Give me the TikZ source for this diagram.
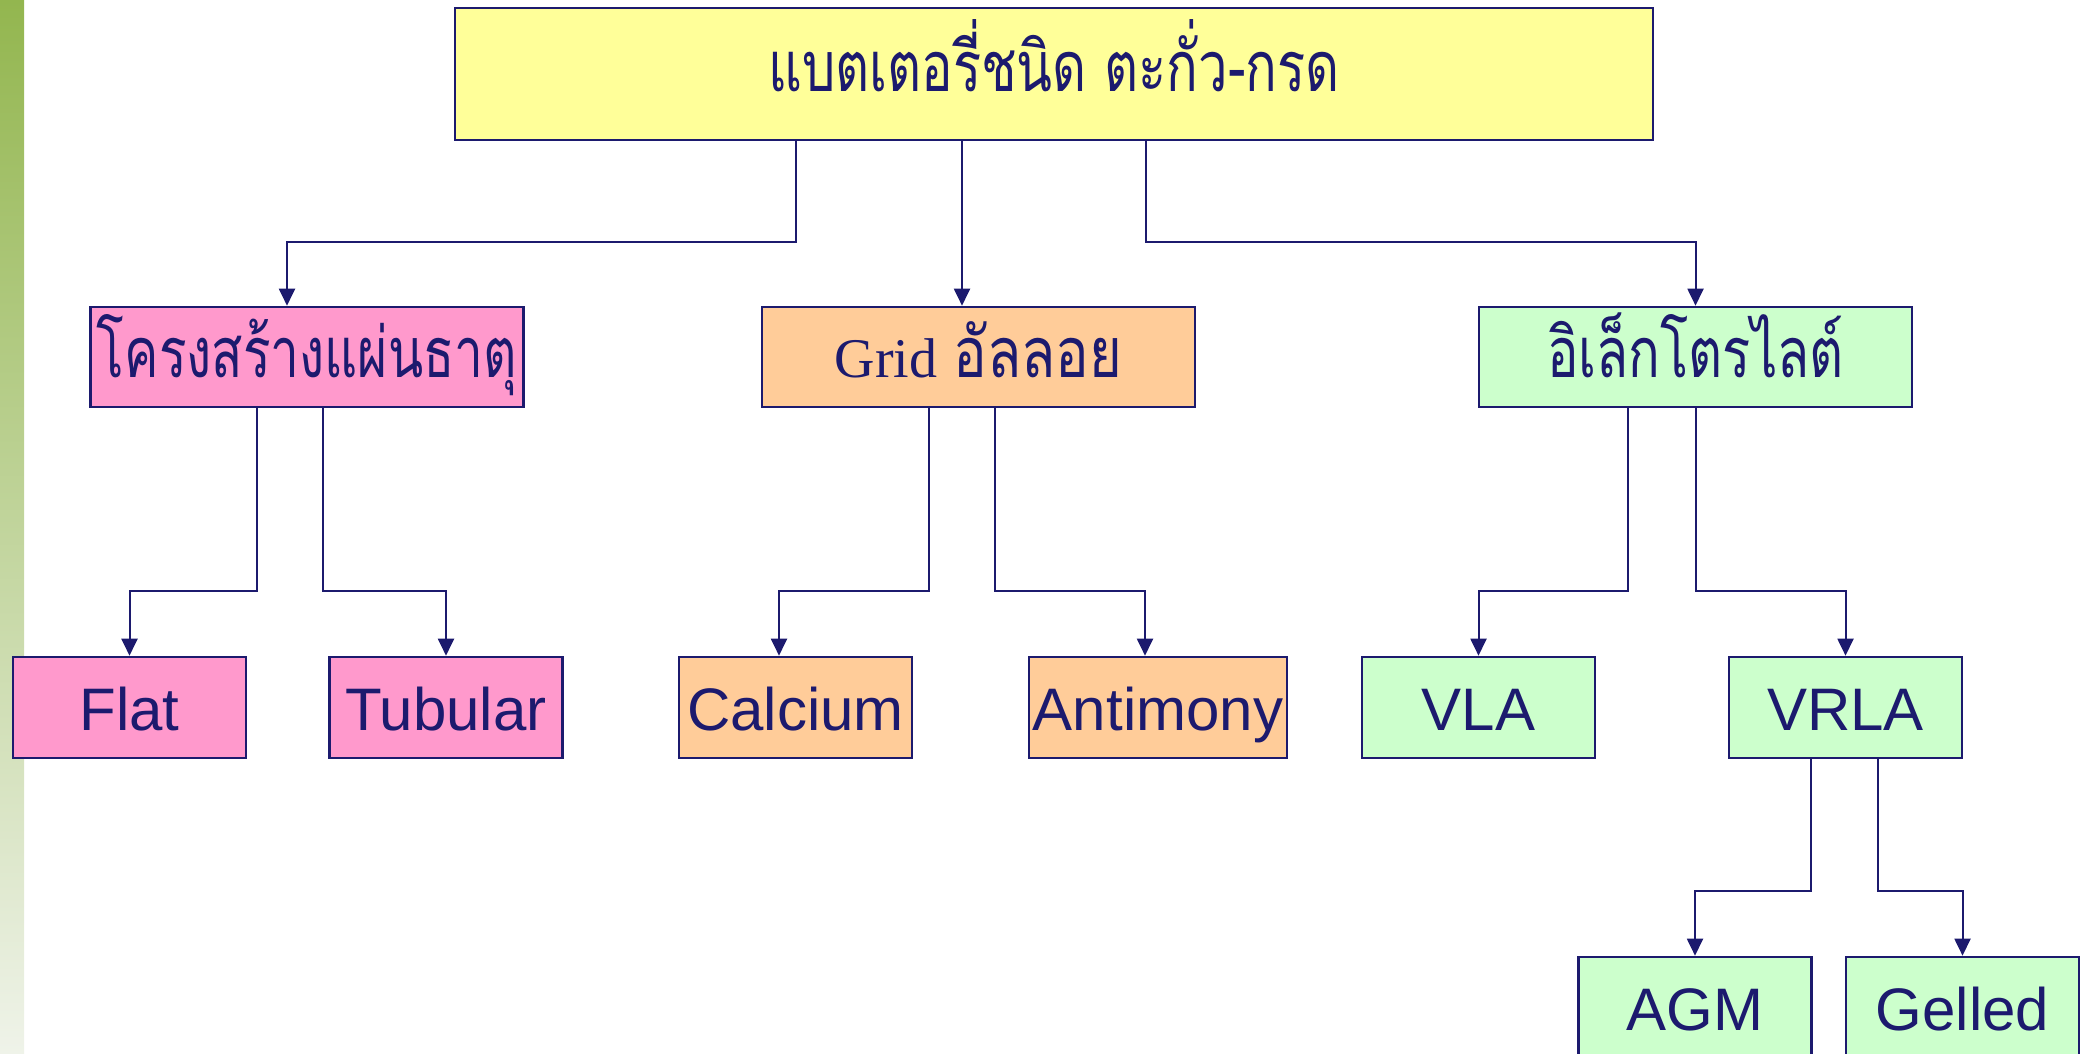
\documentclass[tikz,border=0pt]{standalone}
\usepackage{fontspec}
\setmainfont{Liberation Sans}
\newfontfamily\thai[Script=Thai]{Loma}
\newfontfamily\lserif{Liberation Serif}
\usetikzlibrary{arrows.meta}
\definecolor{navy}{HTML}{1C1A6E}
\definecolor{fyel}{HTML}{FFFF99}
\definecolor{fpink}{HTML}{FF99CC}
\definecolor{forange}{HTML}{FFCC99}
\definecolor{fgreen}{HTML}{CCFFCC}
\definecolor{bartop}{HTML}{93B64F}
\definecolor{barbot}{HTML}{EFF3E9}
\newcommand{\thn}[2]{\scalebox{#1}[1]{#2}}
\tikzset{
  box/.style={draw=navy, line width=2.6pt, inner sep=0pt, text=navy, text depth=0pt},
  thbox/.style={box, minimum width=433pt, minimum height=100pt, text height=40pt, font=\thai\fontsize{70}{80}\selectfont},
  enbox/.style={box, minimum width=233pt, minimum height=101pt, text height=46pt, font=\fontsize{60}{70}\selectfont},
  conn/.style={draw=navy, line width=2pt, -{Triangle[length=17pt,width=16pt]}},
}
\begin{document}
\begin{tikzpicture}[x=1pt,y=-1pt]
\useasboundingbox (0,0) rectangle (2084,1054);
\shade[top color=bartop, bottom color=barbot] (0,0) rectangle (24,1054);
% top
\node[box, fill=fyel, minimum width=1198pt, minimum height=132pt, text height=36pt, font=\thai\fontsize{70}{80}\selectfont] (top) at (1054,74) {\thn{0.75}{แบตเตอรี่ชนิด ตะกั่ว-กรด}};
% level 2
\node[thbox, fill=fpink] (plate) at (307,357) {\thn{0.735}{โครงสร้างแผ่นธาตุ}};
\node[thbox, fill=forange] (grid) at (978.5,357) {{\lserif\fontsize{56}{60}\selectfont Grid}\hspace{16pt}\thn{0.8}{อัลลอย}};
\node[thbox, fill=fgreen] (elec) at (1695.5,357) {\thn{0.75}{อิเล็กโตรไลต์}};
% level 3
\node[enbox, fill=fpink] (flat) at (129.5,707.5) {Flat};
\node[enbox, fill=fpink] (tub) at (446,707.5) {Tubular};
\node[enbox, fill=forange] (calc) at (795.5,707.5) {Calcium};
\node[enbox, fill=forange, minimum width=258pt] (anti) at (1158,707.5) {Antimony};
\node[enbox, fill=fgreen] (vla) at (1478.5,707.5) {VLA};
\node[enbox, fill=fgreen] (vrla) at (1845.5,707.5) {VRLA};
% level 4
\node[enbox, fill=fgreen] (agm) at (1695,1007.5) {AGM};
\node[enbox, fill=fgreen] (gel) at (1962.5,1007.5) {Gelled};
% connectors
\draw[conn] ([xshift=-258pt]top.south) -- ++(0,101) -| ([xshift=-20pt]plate.north);
\draw[conn] ([xshift=-92pt]top.south) -- ([xshift=-16.5pt]grid.north);
\draw[conn] ([xshift=92pt]top.south) -- ++(0,101) -| (elec.north);
\draw[conn] ([xshift=-50pt]plate.south) -- ++(0,183) -| (flat.north);
\draw[conn] ([xshift=16pt]plate.south) -- ++(0,183) -| (tub.north);
\draw[conn] ([xshift=-49.5pt]grid.south) -- ++(0,183) -| ([xshift=-16.5pt]calc.north);
\draw[conn] ([xshift=16.5pt]grid.south) -- ++(0,183) -| ([xshift=-13pt]anti.north);
\draw[conn] ([xshift=-67.5pt]elec.south) -- ++(0,183) -| (vla.north);
\draw[conn] (elec.south) -- ++(0,183) -| (vrla.north);
\draw[conn] ([xshift=-34.5pt]vrla.south) -- ++(0,132) -| (agm.north);
\draw[conn] ([xshift=32.5pt]vrla.south) -- ++(0,132) -| (gel.north);
\end{tikzpicture}
\end{document}
